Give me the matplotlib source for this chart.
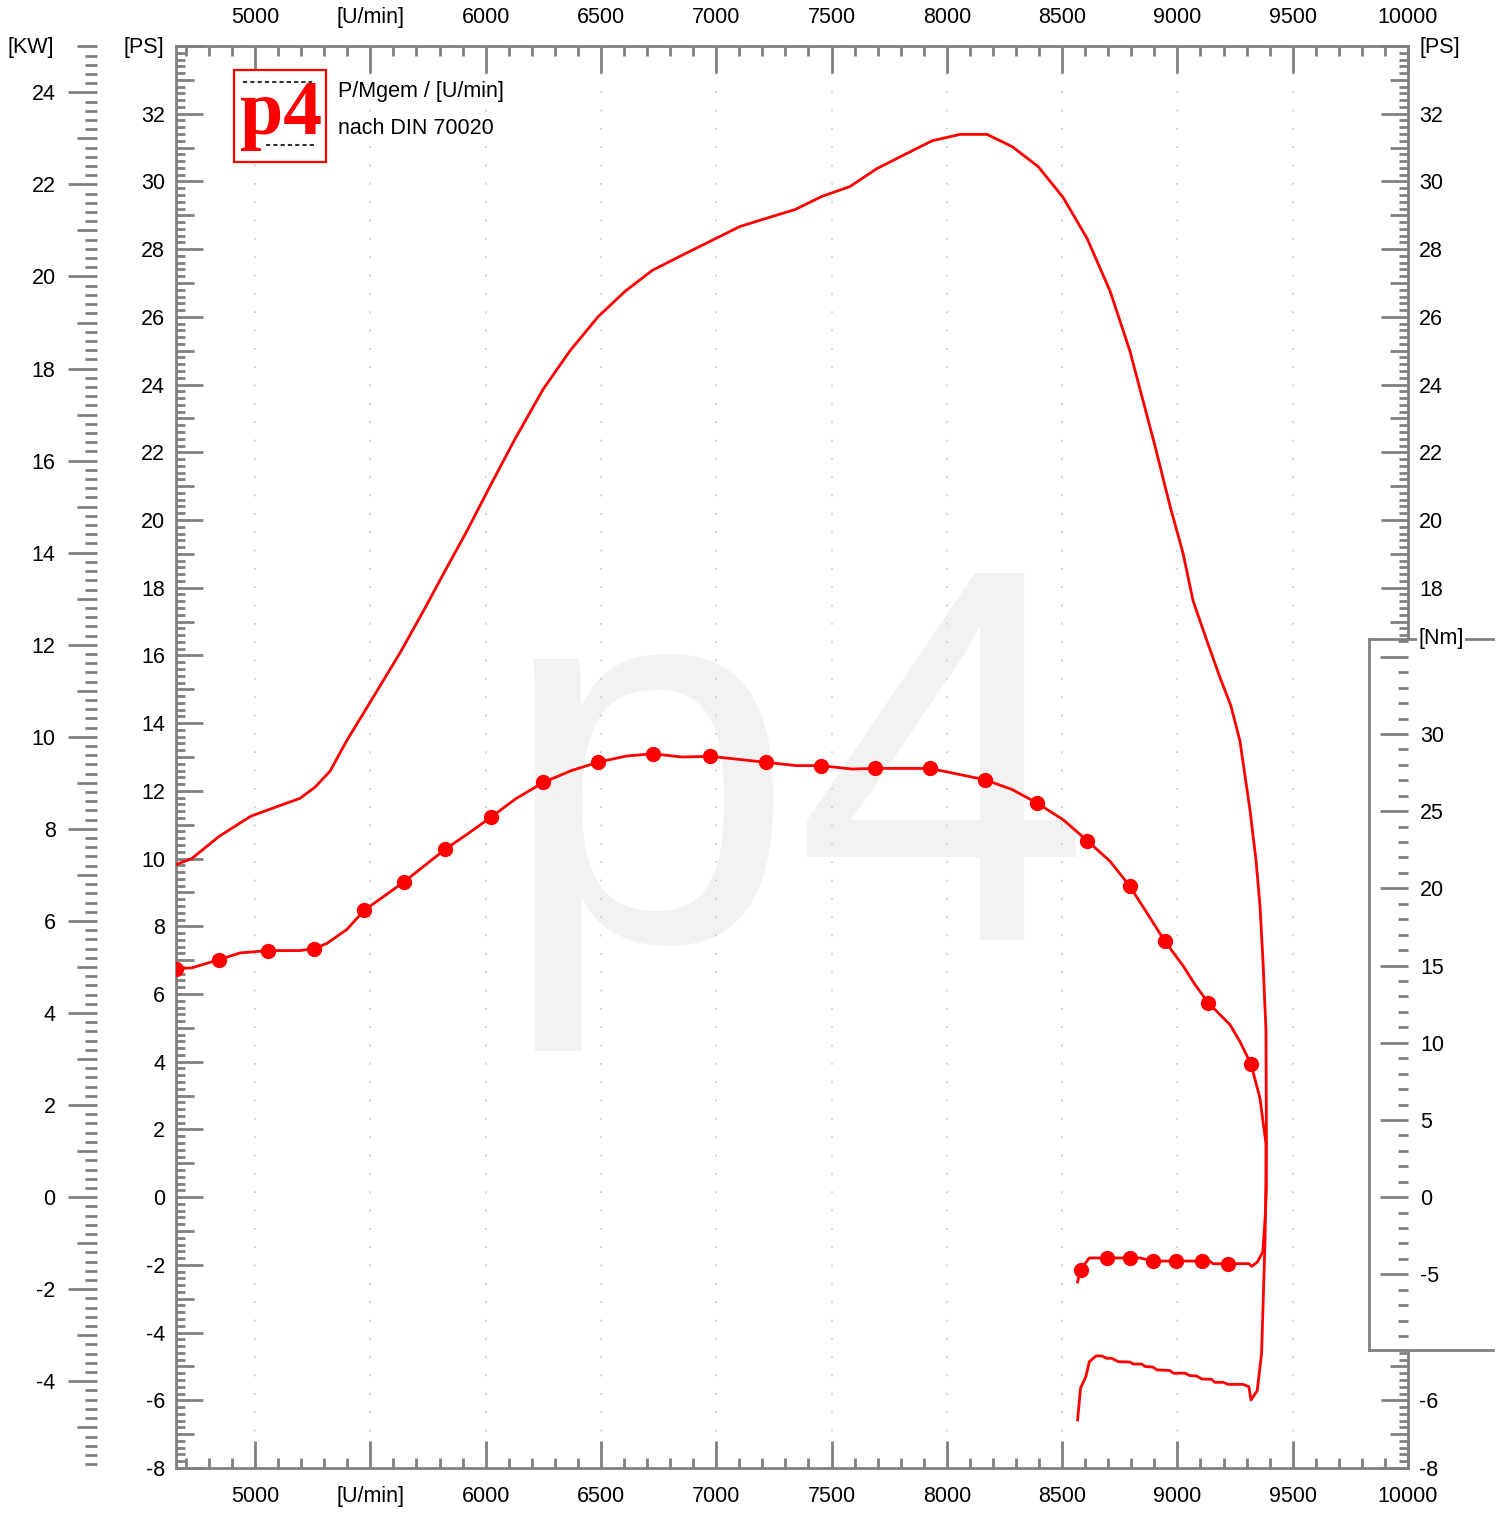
import numpy as np
import matplotlib
matplotlib.use("Agg")
import matplotlib.pyplot as plt
from matplotlib.ticker import MultipleLocator, FuncFormatter
from matplotlib.patches import Rectangle
from matplotlib.lines import Line2D

plt.rcParams['font.family'] = ['Liberation Sans', 'DejaVu Sans']

power_rpm = [4657, 4725, 4845, 4981, 5065, 5195, 5260, 5325, 5398, 5477,
             5629, 5737, 5824, 5919, 6019, 6127, 6249, 6366, 6487, 6604,
             6722, 6843, 6973, 7103, 7212, 7342, 7459, 7580, 7697, 7819,
             7936, 8057, 8174, 8283, 8396, 8504, 8608, 8708, 8794, 8903,
             8968, 9024, 9068, 9128, 9185, 9232, 9271, 9315, 9341, 9358,
             9371, 9384, 9386, 9380, 9365, 9346, 9319, 9310, 9285, 9220,
             9199, 9162, 9148, 9105, 9083, 9054, 9033, 8982, 8967, 8910,
             8895, 8859, 8845, 8809, 8794, 8744, 8715, 8693, 8672, 8647,
             8618, 8603, 8580, 8567]
power_ps = [9.82, 10.00, 10.66, 11.25, 11.46, 11.78, 12.11, 12.58, 13.49, 14.37,
            16.08, 17.40, 18.50, 19.68, 21.00, 22.39, 23.86, 25.00, 26.00, 26.75,
            27.37, 27.79, 28.23, 28.67, 28.90, 29.17, 29.56, 29.85, 30.38, 30.80,
            31.20, 31.39, 31.39, 31.03, 30.44, 29.53, 28.32, 26.76, 24.99, 22.18,
            20.41, 19.03, 17.61, 16.43, 15.34, 14.51, 13.48, 11.42, 9.94, 8.61,
            6.99, 4.93, 1.68, -1.27, -4.61, -5.72, -5.99, -5.60, -5.53, -5.53,
            -5.47, -5.47, -5.38, -5.37, -5.28, -5.27, -5.20, -5.20, -5.12, -5.10,
            -5.02, -5.00, -4.93, -4.93, -4.87, -4.86, -4.76, -4.76, -4.69, -4.69,
            -4.86, -5.30, -5.64, -6.58]

torque_rpm = [4657, 4725, 4845, 4935, 5058, 5195, 5256, 5311, 5398, 5473,
              5647, 5824, 5919, 6024, 6130, 6250, 6370, 6487, 6610, 6725,
              6850, 6975, 7214, 7347, 7454, 7588, 7690, 7927, 8167, 8282,
              8390, 8505, 8608, 8708, 8794, 8881, 8946, 9024, 9076, 9133,
              9228, 9271, 9319, 9358, 9372, 9384, 9386, 9380, 9370, 9347,
              9322, 9310, 9220, 9154, 9140, 9107, 8994, 8895, 8838, 8794,
              8693, 8618, 8580, 8567]
torque_nm = [14.79, 14.85, 15.39, 15.82, 15.97, 15.97, 16.10, 16.43, 17.34, 18.57,
             20.43, 22.53, 23.50, 24.62, 25.80, 26.86, 27.62, 28.17, 28.57, 28.72,
             28.51, 28.55, 28.17, 27.95, 27.95, 27.73, 27.77, 27.77, 27.03, 26.41,
             25.54, 24.44, 23.10, 21.75, 20.13, 18.10, 16.56, 15.00, 13.77, 12.60,
             11.17, 10.08, 8.62, 6.41, 4.79, 3.49, 0.50, -1.49, -3.55, -4.20,
             -4.48, -4.31, -4.31, -4.31, -4.14, -4.14, -4.14, -4.14, -3.94, -3.94,
             -3.94, -3.94, -4.69, -5.50]
# Index der Messpunkte mit Punktmarker
torque_dots = [0, 2, 4, 6, 9, 10, 11, 13, 15, 17, 19, 21, 22, 24, 26, 27, 28,
               30, 32, 34, 36, 39, 42, 52, 55, 56, 57, 59, 60, 62]

rpm_range = (4657, 10000)
ps_range = (-8, 34)
KW_PER_PS = 0.7355
PS_PER_NM = 0.456

W, H = 1507, 1515
GRAY = "#808080"
RED = "#ff0000"
FS = 15.5

# Achsrahmen in Pixel
AX_L, AX_T, AX_R, AX_B = 176, 46, 1408, 1468
BOX_L, BOX_T, BOX_B = 1369, 639, 1350


def fig_xy(px, py):
    return px / W, 1 - py / H


def pt(px):
    return px * 0.72


def ps_at(py):
    return ps_range[1] - (py - AX_T) * (ps_range[1] - ps_range[0]) / (AX_B - AX_T)


def add_axes_px(l, t, r, b):
    x0, y0 = fig_xy(l, b)
    x1, y1 = fig_xy(r, t)
    return fig.add_axes([x0, y0, x1 - x0, y1 - y0])


def even_label(v, pos):
    n = int(round(v))
    return f"{n}" if n % 2 == 0 and n <= 32 else ""


def lengthen_even(axis, length):
    locs = axis.get_majorticklocs()
    for loc, tick in zip(locs, axis.get_major_ticks(len(locs))):
        if int(round(loc)) % 2 == 0:
            tick.tick1line.set_markersize(length)
            tick.tick2line.set_markersize(length)


fig = plt.figure(figsize=(W / 100, H / 100), dpi=100)
ax = add_axes_px(AX_L, AX_T, AX_R, AX_B)
ax.set_xlim(*rpm_range)
ax.set_ylim(*ps_range)
for s in ax.spines.values():
    s.set_color(GRAY)
    s.set_linewidth(2)

axt = ax.twinx()
axt.set_ylim(ps_range[0] / PS_PER_NM, ps_range[1] / PS_PER_NM)
axt.set_yticks([])
for s in axt.spines.values():
    s.set_visible(False)

# Drehzahlachse oben + unten
ax.xaxis.set_major_locator(MultipleLocator(500))
ax.xaxis.set_minor_locator(MultipleLocator(100))
ax.xaxis.set_major_formatter(FuncFormatter(
    lambda v, p: "[U/min]" if int(round(v)) == 5500 else f"{int(round(v))}"))
ax.tick_params(axis="x", which="both", direction="in", top=True, bottom=True,
               labeltop=True, labelbottom=True, color=GRAY, width=2,
               labelsize=FS, pad=13)
ax.tick_params(axis="x", which="major", length=pt(27))
ax.tick_params(axis="x", which="minor", length=pt(10))

# PS links + rechts
ax.yaxis.set_major_locator(MultipleLocator(1))
ax.yaxis.set_minor_locator(MultipleLocator(0.2))
ax.yaxis.set_major_formatter(FuncFormatter(even_label))
ax.tick_params(axis="y", which="both", direction="in", left=True, right=True,
               labelleft=True, labelright=True, color=GRAY, width=2,
               labelsize=FS, pad=pt(11))
ax.tick_params(axis="y", which="major", length=pt(18))
ax.tick_params(axis="y", which="minor", length=pt(9))

ax.grid(axis="x", which="major", color="#c8c8c8", linestyle=(0, (1, 10)),
        linewidth=1.2)

# Wasserzeichen
ax.text(*fig_xy(499, 940), "p4", transform=fig.transFigure, fontsize=384,
        color="#f2f2f2", ha="left", va="baseline", zorder=0.5)

ax.plot(power_rpm, power_ps, color=RED, lw=2, zorder=3)
axt.plot(torque_rpm, torque_nm, color=RED, lw=2, marker="o", ms=10,
         markevery=torque_dots, zorder=3)

# KW Skala
axk = add_axes_px(96.5, AX_T, 97, AX_B)
axk.set_ylim(ps_range[0] * KW_PER_PS, ps_range[1] * KW_PER_PS)
axk.set_xticks([])
axk.patch.set_visible(False)
for s in axk.spines.values():
    s.set_visible(False)
axk.yaxis.set_major_locator(MultipleLocator(1))
axk.yaxis.set_minor_locator(MultipleLocator(0.2))
axk.yaxis.set_major_formatter(FuncFormatter(even_label))
axk.tick_params(axis="y", which="both", direction="out", left=True, right=False,
                color=GRAY, width=2, labelsize=FS, pad=pt(21))
axk.tick_params(axis="y", which="major", length=pt(20))
axk.tick_params(axis="y", which="minor", length=pt(12))

# Nm Skala im Kasten rechts
cover_xy = fig_xy(BOX_L + 2, BOX_B)
fig.add_artist(Rectangle(cover_xy, 1 - cover_xy[0], (BOX_B - BOX_T) / H,
                         transform=fig.transFigure, facecolor="white",
                         edgecolor="none", zorder=1))
axn = add_axes_px(BOX_L, BOX_T, AX_R, BOX_B)
axn.set_zorder(2)
axn.patch.set_visible(False)
for s in axn.spines.values():
    s.set_visible(False)
axn.set_xticks([])
axn.set_ylim(ps_at(BOX_B) / PS_PER_NM, ps_at(BOX_T) / PS_PER_NM)
axn.yaxis.tick_right()
axn.yaxis.set_major_locator(MultipleLocator(5))
axn.yaxis.set_minor_locator(MultipleLocator(1))
axn.yaxis.set_major_formatter(FuncFormatter(
    lambda v, p: "" if v > 32 else f"{int(round(v))}"))
axn.tick_params(axis="y", which="both", direction="in", color=GRAY, width=2,
                labelsize=FS, pad=pt(12))
axn.tick_params(axis="y", which="major", length=pt(28))
axn.tick_params(axis="y", which="minor", length=pt(10))

for (x0, y0), (x1, y1) in [((BOX_L, BOX_T), (BOX_L, BOX_B)),
                           ((BOX_L, BOX_T), (1493, BOX_T)),
                           ((BOX_L, BOX_B), (1493, BOX_B))]:
    a, b = fig_xy(x0, y0)
    c, d = fig_xy(x1, y1)
    fig.add_artist(Line2D([a, c], [b, d], color=GRAY, lw=2, zorder=3))
fig.text(*fig_xy(1441, BOX_T), "[Nm]", ha="center", va="center", fontsize=FS,
         zorder=4, bbox=dict(facecolor="white", edgecolor="none", pad=1))

# Einheiten
fig.text(*fig_xy(31, 47), "[KW]", ha="center", va="center", fontsize=FS)
fig.text(*fig_xy(144, 47), "[PS]", ha="center", va="center", fontsize=FS)
fig.text(*fig_xy(1440, 47), "[PS]", ha="center", va="center", fontsize=FS)

# Logo + Kopftext
fig.add_artist(Rectangle(fig_xy(234, 162), 92 / W, 92 / H, transform=fig.transFigure,
                         facecolor="white", edgecolor=RED, lw=1.6, zorder=4))
fig.text(*fig_xy(281, 134), "p4", ha="center", va="baseline", fontsize=56,
         family="Liberation Serif", weight="bold", color=RED, zorder=5)
for (x0, x1, yy) in [(243, 312, 82), (266, 316, 145)]:
    a, b = fig_xy(x0, yy)
    c, _ = fig_xy(x1, yy)
    fig.add_artist(Line2D([a, c], [b, b], color="#333333", lw=1.5,
                          linestyle=(0, (2, 1.5)), zorder=5))
fig.text(*fig_xy(338, 91), "P/Mgem / [U/min]", ha="left", va="center", fontsize=FS)
fig.text(*fig_xy(338, 128), "nach DIN 70020", ha="left", va="center", fontsize=FS)

# lange Striche an geraden Werten
lengthen_even(ax.yaxis, pt(27))
lengthen_even(axk.yaxis, pt(29))

# rechte PS-Beschriftung im Nm-Kasten ausblenden
box_lo, box_hi = ps_at(BOX_B), ps_at(BOX_T)
locs = ax.yaxis.get_majorticklocs()
for loc, tick in zip(locs, ax.yaxis.get_major_ticks(len(locs))):
    if box_lo < loc < box_hi:
        tick.label2.set_visible(False)

fig.savefig("out.png", dpi=100)
